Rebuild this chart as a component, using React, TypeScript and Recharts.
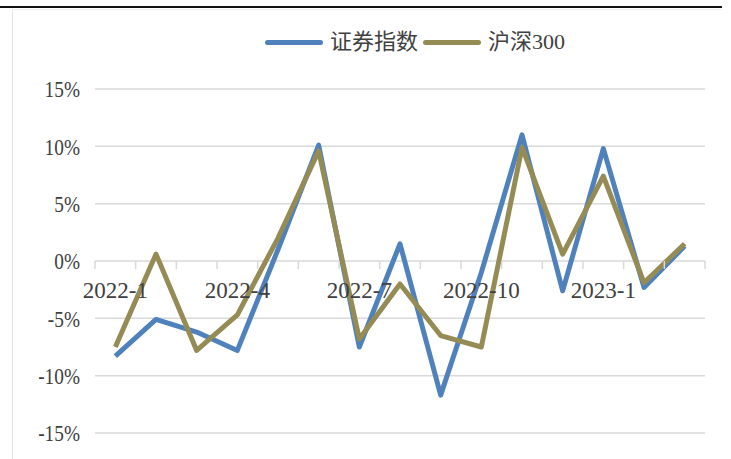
import React from 'react';
import { ComposedChart, Line, XAxis, YAxis, CartesianGrid } from 'recharts';

const categories = [
  '2022-1', '2022-2', '2022-3', '2022-4', '2022-5', '2022-6', '2022-7', '2022-8',
  '2022-9', '2022-10', '2022-11', '2022-12', '2023-1', '2023-2', '2023-3',
];
const securitiesIndex = [-8.3, -5.1, -6.2, -7.8, 1.0, 10.1, -7.5, 1.5, -11.7, -1.0, 11.0, -2.6, 9.8, -2.3, 1.3];
const csi300 = [-7.5, 0.6, -7.8, -4.7, 2.0, 9.6, -6.8, -2.0, -6.5, -7.5, 9.9, 0.6, 7.4, -1.9, 1.5];
const yTicks = [-15, -10, -5, 0, 5, 10, 15];
const labelEvery = 3;

const SERIES_A = '证券指数';
const SERIES_B = '沪深300';

const data = categories.map((c, i) => ({
  month: c,
  [SERIES_A]: securitiesIndex[i],
  [SERIES_B]: csi300[i],
}));

const CHART_W = 731;
const CHART_H = 459;
const MARGIN = { top: 89, right: 26, bottom: 0, left: 0 };
const Y_AXIS_W = 95;
const X_AXIS_H = 26;
const PLOT_LEFT = MARGIN.left + Y_AXIS_W;
const PLOT_W = CHART_W - MARGIN.right - PLOT_LEFT;
const PLOT_H = CHART_H - MARGIN.top - MARGIN.bottom - X_AXIS_H;
const Y_MIN = yTicks[0];
const Y_MAX = yTicks[yTicks.length - 1];
const ZERO_Y = MARGIN.top + PLOT_H * (Y_MAX / (Y_MAX - Y_MIN));
const BAND = PLOT_W / categories.length;

const BLUE = '#4f81bd';
const OLIVE = '#958c55';
const GRID = '#d9d9d9';
const TEXT = '#404040';
const LATIN = '"Liberation Serif", "Noto Sans CJK SC", serif';

const XTick = (props: any) => {
  const { x, payload, index } = props;
  const isLast = index === categories.length - 1;
  return (
    <g>
      <line x1={x - BAND / 2} x2={x - BAND / 2} y1={ZERO_Y} y2={ZERO_Y + 8} stroke={GRID} strokeWidth={1.5} />
      {isLast && (
        <line x1={x + BAND / 2} x2={x + BAND / 2} y1={ZERO_Y} y2={ZERO_Y + 8} stroke={GRID} strokeWidth={1.5} />
      )}
      {index % labelEvery === 0 && (
        <text x={x} y={ZERO_Y + 37} textAnchor="middle" fill={TEXT} fontSize={23} fontFamily={LATIN}>
          {payload.value}
        </text>
      )}
    </g>
  );
};

const YTick = (props: any) => {
  const { x, y, payload } = props;
  return (
    <text
      transform={`translate(${x},${y}) scale(0.84,1)`}
      textAnchor="end"
      dy="0.36em"
      fill={TEXT}
      fontSize={23}
      fontFamily={LATIN}
    >
      {`${payload.value}%`}
    </text>
  );
};

const legendItems = [
  { name: SERIES_A, color: BLUE },
  { name: SERIES_B, color: OLIVE },
];

const LegendBox = () => (
  <div style={{ position: 'absolute', left: 265, top: 27, display: 'flex', alignItems: 'center', height: 30 }}>
    {legendItems.map((it) => (
      <div key={it.name} style={{ display: 'flex', alignItems: 'center', marginRight: 5 }}>
        <div style={{ width: 58, height: 5, borderRadius: 3, background: it.color, marginRight: 7 }} />
        <span style={{ fontSize: 22, color: TEXT, fontFamily: LATIN, lineHeight: '30px', whiteSpace: 'nowrap' }}>
          {it.name}
        </span>
      </div>
    ))}
  </div>
);

export default function App() {
  return (
    <div style={{ position: 'absolute', left: 0, top: 0, width: CHART_W, height: CHART_H, background: '#fff' }}>
      <div style={{ position: 'absolute', left: 0, top: 6, width: 722, height: 2, background: '#111' }} />
      <div style={{ position: 'absolute', left: 12, top: 9, width: 1, bottom: 0, background: '#e4e4e4' }} />
      <div style={{ position: 'absolute', left: 12, top: 9, width: 710, height: 1, background: '#f0f0f0' }} />
      <ComposedChart width={CHART_W} height={CHART_H} data={data} margin={MARGIN}>
        <CartesianGrid vertical={false} stroke={GRID} strokeWidth={1.5} />
        <XAxis
          dataKey="month"
          scale="band"
          height={X_AXIS_H}
          axisLine={false}
          tickLine={false}
          interval={0}
          tick={<XTick />}
        />
        <YAxis
          width={Y_AXIS_W}
          domain={[Y_MIN, Y_MAX]}
          ticks={yTicks}
          axisLine={false}
          tickLine={false}
          tickSize={0}
          tickMargin={15}
          tick={<YTick />}
        />
        <Line
          type="linear"
          dataKey={SERIES_A}
          stroke={BLUE}
          strokeWidth={5}
          strokeLinejoin="round"
          dot={false}
          activeDot={false}
          isAnimationActive={false}
        />
        <Line
          type="linear"
          dataKey={SERIES_B}
          stroke={OLIVE}
          strokeWidth={5}
          strokeLinejoin="round"
          dot={false}
          activeDot={false}
          isAnimationActive={false}
        />
      </ComposedChart>
      <LegendBox />
    </div>
  );
}
